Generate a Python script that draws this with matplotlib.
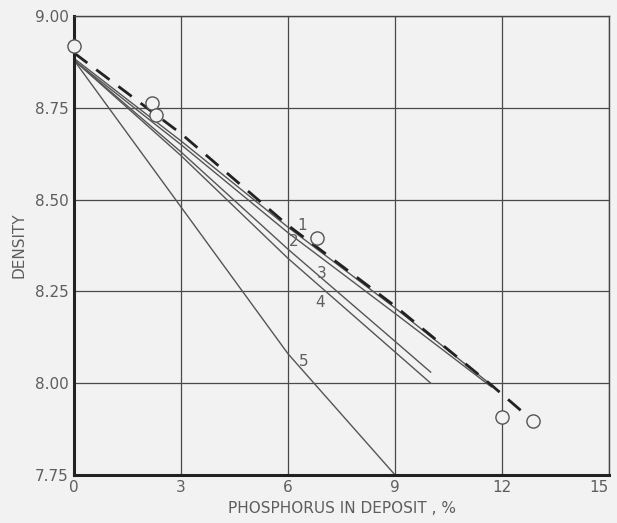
import matplotlib
matplotlib.use("Agg")
import matplotlib.pyplot as plt

# dashed curve through measured points
dash_p = [0, 3, 6, 9, 11.7, 12.87]
dash_d = [8.90, 8.68, 8.43, 8.21, 7.995, 7.897]

# measured points (open circles)
pts_p = [0, 2.2, 2.3, 6.8, 12.0, 12.87]
pts_d = [8.92, 8.763, 8.73, 8.395, 7.908, 7.897]

# numbered solid curves
c1_p = [0, 3, 6, 9, 11.7]
c1_d = [8.885, 8.66, 8.425, 8.205, 7.995]
c2_p = [0, 3, 6, 9, 11.7]
c2_d = [8.88, 8.65, 8.41, 8.19, 7.99]
c3_p = [0, 3, 6, 9, 10]
c3_d = [8.88, 8.63, 8.365, 8.114, 8.03]
c4_p = [0, 3, 6, 9, 10]
c4_d = [8.88, 8.62, 8.34, 8.085, 8.00]
c5_p = [0, 1.5, 3, 4.5, 6, 7.5, 9]
c5_d = [8.88, 8.68, 8.48, 8.28, 8.08, 7.915, 7.75]

labels = ["1", "2", "3", "4", "5"]
label_p = [6.4, 6.15, 6.95, 6.9, 6.45]
label_d = [8.43, 8.385, 8.30, 8.22, 8.06]

xticks = [0, 3, 6, 9, 12, 15]
yticks = [7.75, 8.00, 8.25, 8.50, 8.75, 9.00]

bg = "#f2f2f2"
txt = "#5e5e5e"

fig = plt.figure(figsize=(6.17, 5.23), dpi=100, facecolor=bg)
ax = fig.add_axes([0.120, 0.092, 0.867, 0.877], facecolor=bg)

ax.set_xlim(0, 15)
ax.set_ylim(7.75, 9.00)
ax.set_xticks(xticks)
ax.set_yticks(yticks)
ax.set_xticklabels([str(t) for t in xticks])
ax.set_yticklabels(["%.2f" % t for t in yticks])
ax.tick_params(length=0, labelsize=11, labelcolor=txt, pad=4)
ax.get_xticklabels()[-1].set_horizontalalignment("right")
ax.grid(True, color="#4a4a4a", lw=0.9)
ax.set_axisbelow(True)

for s in ["left", "bottom"]:
    ax.spines[s].set_linewidth(2.2)
    ax.spines[s].set_color("#222222")
for s in ["top", "right"]:
    ax.spines[s].set_linewidth(1.0)
    ax.spines[s].set_color("#444444")

for p, d in [(c1_p, c1_d), (c2_p, c2_d), (c3_p, c3_d), (c4_p, c4_d), (c5_p, c5_d)]:
    ax.plot(p, d, color="#555555", lw=1.0)

ax.plot(dash_p, dash_d, color="#222222", lw=2.0, dashes=(6, 4))
ax.plot(pts_p, pts_d, "o", ms=9.5, mfc=bg, mec="#555555", mew=1.0, clip_on=False, zorder=5)

for lab, x, y in zip(labels, label_p, label_d):
    ax.text(x, y, lab, fontsize=11, color=txt, ha="center", va="center")

ax.set_xlabel("PHOSPHORUS IN DEPOSIT , %", fontsize=11, color=txt, labelpad=4)
ax.set_ylabel("DENSITY", fontsize=11, color=txt, labelpad=6)

fig.savefig("out.png", dpi=100, facecolor=bg)
